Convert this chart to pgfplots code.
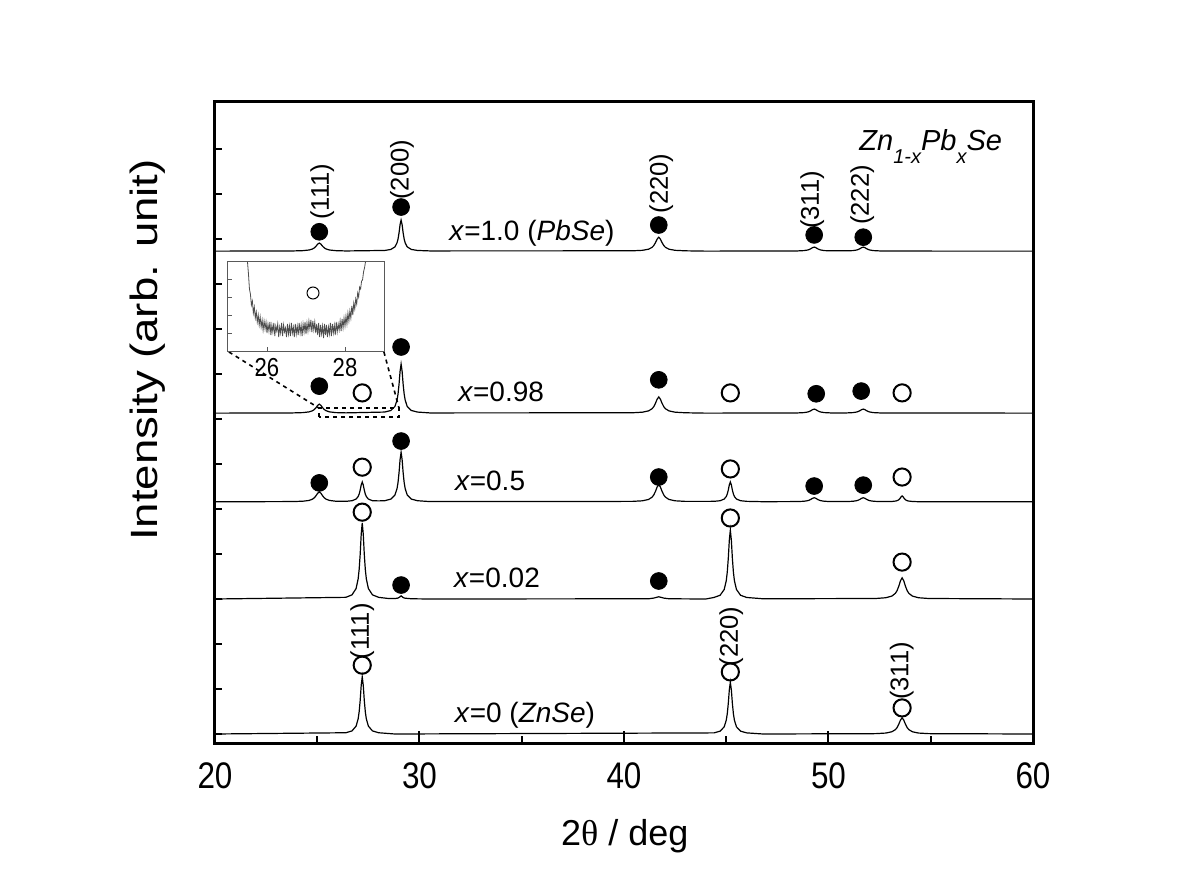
\documentclass[border=0pt]{standalone}
\usepackage{fontspec}
\setmainfont{Liberation Sans}
\newfontfamily\condfont[FakeStretch=0.85]{Liberation Sans}
\newfontfamily\widefont[FakeStretch=1.2]{Liberation Sans}
\newfontfamily\seriffont{Liberation Serif}
\usepackage{pgfplots}
\pgfplotsset{compat=1.18}
\begin{document}
\begin{tikzpicture}
\path[use as bounding box] (-107.5pt,-74pt) rectangle (492.5pt,371.5pt);
\begin{axis}[
  at={(0,0)}, anchor=south west,
  scale only axis, width=409pt, height=320.5pt,
  xmin=20, xmax=60, ymin=0, ymax=14.244,
  xtick={20,30,40,50,60}, minor xtick={25,35,45,55},
  ytick={0.2,1.2,2.2,3.2,4.2,5.2,6.2,7.2,8.2,9.2,10.2,11.2,12.2,13.2},
  yticklabels={},
  xtick pos=bottom, ytick pos=left, tick align=inside,
  major tick length=6pt, minor tick length=3.5pt,
  ytick style={/pgfplots/major tick length=3.5pt},
  every tick/.style={black, line width=1pt},
  axis line style={line width=1.5pt},
  /pgf/number format/assume math mode=true,
  xticklabel style={font=\condfont\fontsize{18.5}{18.5}\selectfont, inner sep=0pt, anchor=north, yshift=-9.5pt},
  xlabel={2{\seriffont θ} / deg},
  ylabel={Intensity (arb. unit)},
  every axis x label/.style={at={(axis description cs:0.501,-0.145)}, anchor=center, font=\fontsize{18}{18}\selectfont},
  every axis y label/.style={at={(axis description cs:-0.082,0.613)}, anchor=center, rotate=90, font=\widefont\fontsize{19}{19}\selectfont},
  clip=false,
]
% x = 0 (ZnSe)
\addplot[black, line width=0.6pt] coordinates {
(20,0.2) (26.4,0.228) (26.7,0.269) (26.9,0.375) (27.0,0.537) (27.05,0.695) (27.1,0.949) (27.15,1.282) (27.2,1.47) (27.25,1.282) (27.3,0.949) (27.35,0.695) (27.4,0.537) (27.5,0.375) (27.7,0.269) (28.0,0.228) (28.8,0.2)
(44.4,0.225) (44.7,0.263) (44.9,0.359) (45.0,0.505) (45.05,0.649) (45.1,0.878) (45.15,1.18) (45.2,1.35) (45.25,1.18) (45.3,0.878) (45.35,0.649) (45.4,0.505) (45.5,0.359) (45.7,0.263) (46.0,0.225) (46.8,0.2)
(52.3,0.208) (52.8,0.221) (53.1,0.25) (53.27,0.297) (53.35,0.34) (53.44,0.42) (53.52,0.51) (53.6,0.56) (53.68,0.51) (53.76,0.42) (53.85,0.34) (53.93,0.297) (54.1,0.25) (54.4,0.221) (54.9,0.208) (60,0.2)
};
% x = 0.02
\addplot[black, line width=0.6pt] coordinates {
(20,3.2) (26.4,3.237) (26.7,3.292) (26.9,3.433) (27.0,3.648) (27.05,3.859) (27.1,4.197) (27.15,4.64) (27.2,4.89) (27.25,4.64) (27.3,4.197) (27.35,3.859) (27.4,3.648) (27.5,3.433) (27.7,3.292) (28.0,3.237) (28.5,3.21) (28.8,3.21) (28.94,3.22) (29.02,3.24) (29.1,3.27) (29.18,3.24) (29.26,3.22) (29.6,3.205) (30.5,3.2)
(41.2,3.205) (41.45,3.22) (41.62,3.24) (41.7,3.25) (41.78,3.24) (41.95,3.22) (42.2,3.205) (44.0,3.2)
(44.4,3.234) (44.7,3.283) (44.9,3.411) (45.0,3.605) (45.05,3.797) (45.1,4.103) (45.15,4.504) (45.2,4.73) (45.25,4.504) (45.3,4.103) (45.35,3.797) (45.4,3.605) (45.5,3.411) (45.7,3.283) (46.0,3.234) (46.8,3.205)
(52.3,3.211) (52.8,3.228) (53.1,3.265) (53.27,3.326) (53.35,3.383) (53.44,3.487) (53.52,3.605) (53.6,3.67) (53.68,3.605) (53.76,3.487) (53.85,3.383) (53.93,3.326) (54.1,3.265) (54.4,3.228) (54.9,3.211) (60,3.2)
};
% x = 0.5
\addplot[black, line width=0.6pt] coordinates {
(20,5.36) (23.8,5.365) (24.3,5.373) (24.6,5.39) (24.77,5.419) (24.85,5.446) (24.94,5.494) (25.02,5.55) (25.1,5.58) (25.18,5.55) (25.26,5.494) (25.35,5.446) (25.43,5.419) (25.6,5.39) (25.9,5.373) (26.4,5.37)
(26.7,5.384) (26.9,5.421) (27.0,5.477) (27.05,5.532) (27.1,5.62) (27.15,5.735) (27.2,5.8) (27.25,5.735) (27.3,5.62) (27.35,5.532) (27.4,5.477) (27.5,5.421) (27.7,5.384) (28.0,5.38)
(28.3,5.384) (28.6,5.42) (28.8,5.512) (28.9,5.652) (28.95,5.789) (29.0,6.009) (29.05,6.297) (29.1,6.46) (29.15,6.297) (29.2,6.009) (29.25,5.789) (29.3,5.652) (29.4,5.512) (29.6,5.42) (29.9,5.384) (30.5,5.365)
(40.4,5.369) (40.9,5.382) (41.2,5.412) (41.37,5.462) (41.45,5.508) (41.54,5.592) (41.62,5.688) (41.7,5.74) (41.78,5.688) (41.86,5.592) (41.95,5.508) (42.03,5.462) (42.2,5.412) (42.5,5.382) (43.0,5.369)
(44.4,5.37) (44.7,5.384) (44.9,5.421) (45.0,5.477) (45.05,5.532) (45.1,5.62) (45.15,5.735) (45.2,5.8) (45.25,5.735) (45.3,5.62) (45.35,5.532) (45.4,5.477) (45.5,5.421) (45.7,5.384) (46.0,5.37) (46.8,5.362)
(48.5,5.365) (48.8,5.372) (48.97,5.384) (49.05,5.395) (49.14,5.415) (49.22,5.438) (49.3,5.45) (49.38,5.438) (49.46,5.415) (49.55,5.395) (49.63,5.384) (49.8,5.372) (50.1,5.365)
(50.9,5.365) (51.2,5.372) (51.37,5.384) (51.45,5.395) (51.54,5.415) (51.62,5.438) (51.7,5.45) (51.78,5.438) (51.86,5.415) (51.95,5.395) (52.03,5.384) (52.2,5.372) (52.5,5.365)
(53.1,5.367) (53.3,5.378) (53.4,5.394) (53.45,5.411) (53.5,5.437) (53.55,5.471) (53.6,5.49) (53.65,5.471) (53.7,5.437) (53.75,5.411) (53.8,5.394) (53.9,5.378) (54.1,5.367) (54.4,5.362) (60,5.36)
};
% x = 0.98
\addplot[black, line width=0.6pt] coordinates {
(20,7.33) (23.8,7.335) (24.3,7.342) (24.6,7.358) (24.77,7.384) (24.85,7.408) (24.94,7.452) (25.02,7.502) (25.1,7.53) (25.18,7.502) (25.26,7.452) (25.35,7.408) (25.43,7.384) (25.6,7.358) (25.9,7.342) (26.4,7.336)
(28.3,7.354) (28.6,7.389) (28.8,7.48) (28.9,7.619) (28.95,7.755) (29.0,7.973) (29.05,8.259) (29.1,8.42) (29.15,8.259) (29.2,7.973) (29.25,7.755) (29.3,7.619) (29.4,7.48) (29.6,7.389) (29.9,7.354) (30.5,7.335)
(40.4,7.338) (40.9,7.351) (41.2,7.38) (41.37,7.427) (41.45,7.47) (41.54,7.55) (41.62,7.64) (41.7,7.69) (41.78,7.64) (41.86,7.55) (41.95,7.47) (42.03,7.427) (42.2,7.38) (42.5,7.351) (43.0,7.338) (44.0,7.33)
(48.5,7.335) (48.8,7.342) (48.97,7.354) (49.05,7.365) (49.14,7.385) (49.22,7.408) (49.3,7.42) (49.38,7.408) (49.46,7.385) (49.55,7.365) (49.63,7.354) (49.8,7.342) (50.1,7.335)
(50.9,7.335) (51.2,7.342) (51.37,7.354) (51.45,7.365) (51.54,7.385) (51.62,7.408) (51.7,7.42) (51.78,7.408) (51.86,7.385) (51.95,7.365) (52.03,7.354) (52.2,7.342) (52.5,7.335) (60,7.33)
};
% x = 1.0 (PbSe)
\addplot[black, line width=0.6pt] coordinates {
(20,10.93) (23.8,10.934) (24.3,10.941) (24.6,10.955) (24.77,10.978) (24.85,11.0) (24.94,11.04) (25.02,11.085) (25.1,11.11) (25.18,11.085) (25.26,11.04) (25.35,11.0) (25.43,10.978) (25.6,10.955) (25.9,10.941) (26.4,10.934)
(28.3,10.945) (28.6,10.968) (28.8,11.025) (28.9,11.113) (28.95,11.199) (29.0,11.337) (29.05,11.518) (29.1,11.62) (29.15,11.518) (29.2,11.337) (29.25,11.199) (29.3,11.113) (29.4,11.025) (29.6,10.968) (29.9,10.945) (30.5,10.935)
(40.4,10.937) (40.9,10.948) (41.2,10.973) (41.37,11.013) (41.45,11.051) (41.54,11.119) (41.62,11.197) (41.7,11.24) (41.78,11.197) (41.86,11.119) (41.95,11.051) (42.03,11.013) (42.2,10.973) (42.5,10.948) (43.0,10.937) (44.0,10.93)
(48.5,10.935) (48.8,10.942) (48.97,10.954) (49.05,10.965) (49.14,10.985) (49.22,11.008) (49.3,11.02) (49.38,11.008) (49.46,10.985) (49.55,10.965) (49.63,10.954) (49.8,10.942) (50.1,10.937)
(50.9,10.937) (51.2,10.942) (51.37,10.954) (51.45,10.965) (51.54,10.985) (51.62,11.008) (51.7,11.02) (51.78,11.008) (51.86,10.985) (51.95,10.965) (52.03,10.954) (52.2,10.942) (52.5,10.935) (53.5,10.931) (60,10.93)
};
% filled markers (PbSe phase)
\addplot[only marks, mark=*, mark size=4.2pt, black] coordinates {
(25.1,11.36) (29.1,11.91) (41.7,11.51) (49.3,11.29) (51.7,11.24)
(25.1,7.93) (29.1,8.8) (41.7,8.07) (49.4,7.76) (51.6,7.82)
(25.1,5.78) (29.1,6.71) (41.7,5.91) (49.3,5.71) (51.7,5.73)
(29.1,3.51) (41.7,3.6)
};
% open markers (ZnSe phase)
\addplot[only marks, mark=o, mark size=4.3pt, black, mark options={line width=1pt}] coordinates {
(27.2,7.78) (45.2,7.78) (53.6,7.78)
(27.2,6.13) (45.2,6.09) (53.6,5.91)
(27.2,5.13) (45.2,5.0) (53.6,4.02)
(27.2,1.73) (45.2,1.58) (53.6,0.78)
};
% Miller indices
\begin{scope}[every node/.style={rotate=90, font=\fontsize{12.8}{12.8}\selectfont, inner sep=0pt}]
\node at (axis cs:25.24,12.25) {(111)};
\node at (axis cs:29.15,12.74) {(200)};
\node at (axis cs:41.82,12.43) {(220)};
\node at (axis cs:49.2,12.07) {(311)};
\node at (axis cs:51.65,12.18) {(222)};
\node at (axis cs:27.2,2.48) {(111)};
\node at (axis cs:45.24,2.37) {(220)};
\node at (axis cs:53.58,1.6) {(311)};
\end{scope}
% sample labels
\begin{scope}[every node/.style={font=\fontsize{14}{14}\selectfont, inner sep=0pt}]
\node at (axis cs:35.5,11.33) {\textit{x}=1.0 (\textit{PbSe})};
\node at (axis cs:33.99,7.8) {\textit{x}=0.98};
\node at (axis cs:33.45,5.82) {\textit{x}=0.5};
\node at (axis cs:33.79,3.67) {\textit{x}=0.02};
\node at (axis cs:35.16,0.62) {\textit{x}=0 (\textit{ZnSe})};
\end{scope}
\node[font=\fontsize{14.5}{14.5}\selectfont\itshape, inner sep=0pt] at (axis cs:55.0,13.25)
  {Zn\raisebox{-0.45em}{\fontsize{10}{10}\selectfont 1-x}Pb\raisebox{-0.45em}{\fontsize{10}{10}\selectfont x}Se};
% zoom indication
\draw[black, line width=0.8pt, dash pattern=on 2pt off 2pt] (axis cs:20.68,8.69) -- (axis cs:25.09,7.44);
\draw[black, line width=0.8pt, dash pattern=on 2pt off 2pt] (axis cs:28.26,8.69) -- (axis cs:29.0,7.44);
\draw[black, line width=0.8pt, dash pattern=on 2pt off 2pt] (axis cs:25.09,7.24) rectangle (axis cs:29.0,7.44);
\end{axis}
% inset
\begin{axis}[
  at={(6.5pt,196pt)}, anchor=south west,
  scale only axis, width=78pt, height=44.5pt,
  xmin=25, xmax=29, ymin=0, ymax=89,
  xtick={26,28}, ytick={18,35.7,53.4,71.1}, yticklabels={},
  xtick pos=bottom, ytick pos=left, tick align=inside,
  major tick length=2pt,
  every tick/.style={gray!70!black, line width=0.4pt},
  axis line style={gray!70!black, line width=0.5pt},
  axis background/.style={fill=white},
  /pgf/number format/assume math mode=true,
  xticklabel style={font=\condfont\fontsize{13}{13}\selectfont, inner sep=0pt, anchor=north, yshift=-3.5pt},
]
\addplot[black!70, line width=0.4pt] coordinates {
(25.50,89) (25.525,77) (25.55,62) (25.575,57) (25.60,46) (25.625,50) (25.65,38) (25.675,44) (25.70,33) (25.725,39)
(25.75,29) (25.775,36) (25.80,26) (25.825,34) (25.85,24) (25.875,31) (25.90,21) (25.925,30) (25.95,22) (25.975,29)
(26.00,18) (26.025,27) (26.05,20) (26.075,29) (26.10,16) (26.125,26) (26.15,19) (26.175,28) (26.20,15) (26.225,25)
(26.25,20) (26.275,27) (26.30,14) (26.325,24) (26.35,18) (26.375,28) (26.40,15) (26.425,26) (26.45,19) (26.475,23)
(26.50,14) (26.525,27) (26.55,17) (26.575,25) (26.60,15) (26.625,28) (26.65,18) (26.675,24) (26.70,14) (26.725,27)
(26.75,17) (26.775,25) (26.80,16) (26.825,28) (26.85,18) (26.875,26) (26.90,15) (26.925,27) (26.95,19) (26.975,29)
(27.00,17) (27.025,28) (27.05,20) (27.075,30) (27.10,22) (27.125,31) (27.15,19) (27.175,30) (27.20,21) (27.225,29)
(27.25,18) (27.275,27) (27.30,16) (27.325,28) (27.35,14) (27.375,26) (27.40,17) (27.425,25) (27.45,13) (27.475,27)
(27.50,16) (27.525,26) (27.55,14) (27.575,24) (27.60,17) (27.625,28) (27.65,15) (27.675,27) (27.70,18) (27.725,26)
(27.75,16) (27.775,29) (27.80,19) (27.825,27) (27.85,21) (27.875,30) (27.90,20) (27.925,32) (27.95,23) (27.975,33)
(28.00,25) (28.025,35) (28.05,27) (28.075,38) (28.10,30) (28.125,40) (28.15,33) (28.175,45) (28.20,36) (28.225,48)
(28.25,42) (28.275,52) (28.30,47) (28.325,58) (28.35,54) (28.375,64) (28.40,62) (28.425,70) (28.45,71) (28.475,79)
(28.50,83) (28.525,89)
};
\addplot[only marks, mark=o, mark size=3pt, black, mark options={line width=0.5pt}] coordinates {(27.18,58)};
\end{axis}
\end{tikzpicture}
\end{document}
